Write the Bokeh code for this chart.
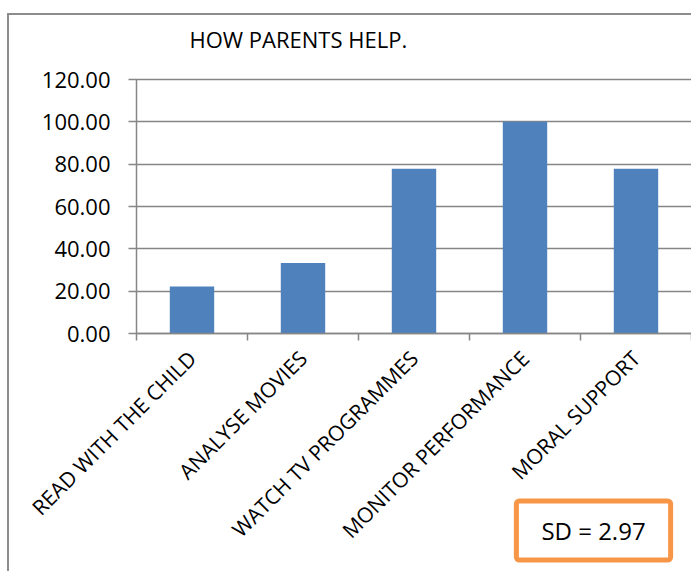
from bokeh.plotting import figure
from bokeh.models import (Range1d, FactorRange, LinearAxis, FixedTicker,
                          NumeralTickFormatter, Label, ColumnDataSource)
from bokeh.embed import file_html
from bokeh.resources import INLINE
import math

categories = ["READ WITH THE CHILD", "ANALYSE MOVIES", "WATCH TV PROGRAMMES",
              "MONITOR PERFORMANCE", "MORAL SUPPORT"]
values = [22.22, 33.33, 77.78, 100.00, 77.78]
y_ticks = [0, 20, 40, 60, 80, 100, 120]
title_text = "HOW PARENTS HELP."
sd_text = "SD = 2.97"

FONT = "Open Sans"
GRAY = "#868686"
PAD = "pad"   # empty slot left of the first category, holds the y-axis labels

# layout (pixels)
W, H = 691, 571
TOP_PX, ZERO_PX = 79, 333
AXIS_X = 136
n = len(categories)
slot = (W - AXIS_X) / n
FRAME_LEFT = round(AXIS_X - slot)
k = (ZERO_PX - TOP_PX) / 120.0
y_range = Range1d(-(H - ZERO_PX) / k, 120 + TOP_PX / k)
x_range = FactorRange(factors=[PAD] + categories)

p = figure(width=W, height=H, x_range=x_range, y_range=y_range, title=None,
           output_backend="svg", toolbar_location=None,
           x_axis_location=None, y_axis_location=None,
           min_border_left=FRAME_LEFT, min_border_right=0, min_border_top=0, min_border_bottom=0)
p.outline_line_color = None
p.background_fill_color = None
p.border_fill_color = None
p.xgrid.visible = False
p.ygrid.visible = False
p.styles = {"background": "linear-gradient(#8c8c8c, #8c8c8c) 7px 13px / 2px 700px no-repeat, "
                          "linear-gradient(#8c8c8c, #8c8c8c) 7px 13px / 800px 2px no-repeat, #ffffff"}

# y axis at the left edge of the first category; its long inner ticks form the gridlines
yax = LinearAxis(ticker=FixedTicker(ticks=y_ticks), formatter=NumeralTickFormatter(format="0.00"),
                 bounds=(0, 120), fixed_location=1.0, level="underlay")
yax.axis_line_color = GRAY
yax.axis_line_width = 1.5
yax.major_tick_line_color = GRAY
yax.major_tick_line_width = 1.5
yax.major_tick_in = W - AXIS_X
yax.major_tick_out = 8
yax.minor_tick_line_color = None
yax.major_label_standoff = 18
yax.major_label_text_font = FONT
yax.major_label_text_font_size = "22px"
yax.major_label_text_color = "black"
p.add_layout(yax, "left")

# x axis at y=0 with ticks at category boundaries
bounds = [i + 1 for i in range(n + 1)]
xtick = LinearAxis(ticker=FixedTicker(ticks=bounds), fixed_location=0, bounds=(1, n + 1))
xtick.axis_line_color = GRAY
xtick.axis_line_width = 1.5
xtick.major_tick_line_color = GRAY
xtick.major_tick_line_width = 1.5
xtick.major_tick_in = 0
xtick.major_tick_out = 7
xtick.minor_tick_line_color = None
xtick.major_label_overrides = {b: "" for b in bounds}
xtick.major_label_standoff = 0
p.add_layout(xtick, "below")

# rotated category labels, one at the centre of each category slot
centers = [i + 1.5 for i in range(n)]
xcat = LinearAxis(ticker=FixedTicker(ticks=centers), fixed_location=0)
xcat.axis_line_color = None
xcat.major_tick_line_color = None
xcat.major_tick_in = 0
xcat.major_tick_out = 0
xcat.minor_tick_line_color = None
xcat.major_label_overrides = {c: name for c, name in zip(centers, categories)}
xcat.major_label_orientation = math.pi / 4
xcat.major_label_standoff = 21
xcat.major_label_text_font = FONT
xcat.major_label_text_font_size = "21px"
xcat.major_label_text_color = "black"
p.add_layout(xcat, "below")

src = ColumnDataSource(dict(cat=categories, val=values))
p.vbar(x="cat", top="val", width=0.4, source=src, fill_color="#4F81BD", line_color=None)

# title
p.add_layout(Label(x=189 - FRAME_LEFT, y=H - 38, x_units="screen", y_units="screen", text=title_text,
                   text_font=FONT, text_font_size="22px", text_color="black",
                   text_align="left", text_baseline="alphabetic"))

# SD box
p.add_layout(Label(x=593 - FRAME_LEFT, y=H - 530, x_units="screen", y_units="screen", text=sd_text,
                   text_font=FONT, text_font_size="24px", text_color="black",
                   text_align="center", text_baseline="middle",
                   padding=(25, 13), border_line_color="#F79646", border_line_width=5,
                   border_radius=3, background_fill_color="white"))

open("out.html", "w").write(file_html(p, INLINE))
